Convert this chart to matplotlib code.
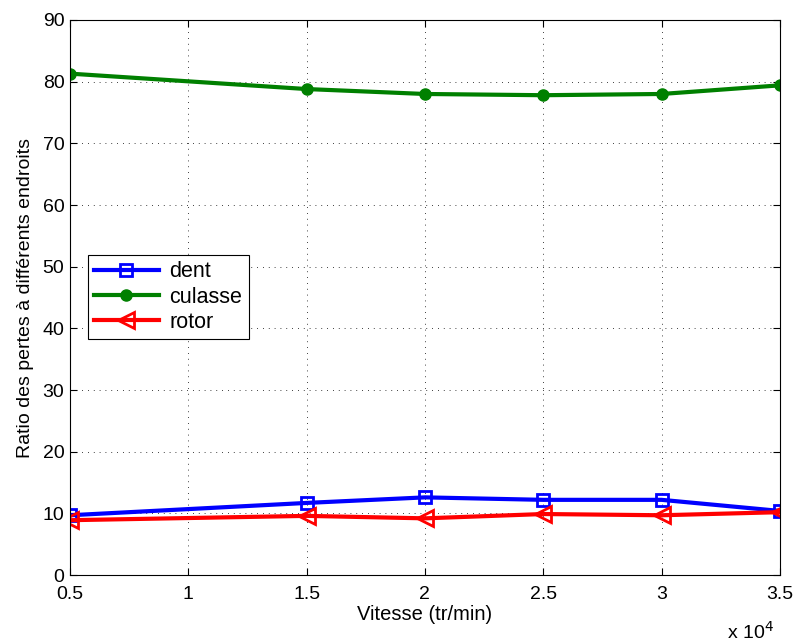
import matplotlib
matplotlib.use("Agg")
import matplotlib.pyplot as plt
from matplotlib.ticker import FuncFormatter, MultipleLocator

plt.rcParams['font.family'] = ['Liberation Sans', 'DejaVu Sans']

# données
vitesse = [5000, 15000, 20000, 25000, 30000, 35000]
dent = [9.7, 11.7, 12.6, 12.2, 12.2, 10.4]
culasse = [81.3, 78.8, 78.0, 77.8, 78.0, 79.4]
rotor = [8.9, 9.6, 9.2, 9.9, 9.7, 10.2]

fig = plt.figure(figsize=(7.95, 6.44), dpi=100)
ax = fig.add_axes([0.088, 0.107, 0.893, 0.862])

ax.plot(vitesse, dent, color='blue', lw=3, marker='s', ms=8, mfc='none', mew=2, label='dent')
ax.plot(vitesse, culasse, color='#008000', lw=3, marker='o', ms=8, mfc='#008000', mec='#008000', label='culasse')
ax.plot(vitesse, rotor, color='red', lw=3, marker='<', ms=11, mfc='none', mew=2, label='rotor')

ax.set_xlim(5000, 35000)
ax.set_ylim(0, 90)
ax.xaxis.set_major_locator(MultipleLocator(5000))
ax.yaxis.set_major_locator(MultipleLocator(10))
ax.xaxis.set_major_formatter(FuncFormatter(lambda v, p: f"{v/1e4:g}"))
ax.grid(True, color='black', linestyle=(0, (1, 6)), linewidth=0.6)
ax.tick_params(direction='in', labelsize=14, top=True, right=True, length=5)
ax.tick_params(axis='x', pad=8)
ax.tick_params(axis='y', pad=4)
for s in ax.spines.values():
    s.set_linewidth(0.8)

ax.set_xlabel('Vitesse (tr/min)', fontsize=14.5, labelpad=1)
ax.set_ylabel('Ratio des pertes à différents endroits', fontsize=14, labelpad=6)
fig.text(0.915, 0.008, r'x 10$^4$', fontsize=14)

leg = ax.legend(loc='upper left', bbox_to_anchor=(0.025, 0.577), fontsize=15.5,
                fancybox=False, edgecolor='black', framealpha=1, borderaxespad=0,
                handlelength=3.0, borderpad=0.3, labelspacing=0.2, handletextpad=0.5)
leg.get_frame().set_linewidth(0.8)

fig.savefig('out.png', dpi=100)
